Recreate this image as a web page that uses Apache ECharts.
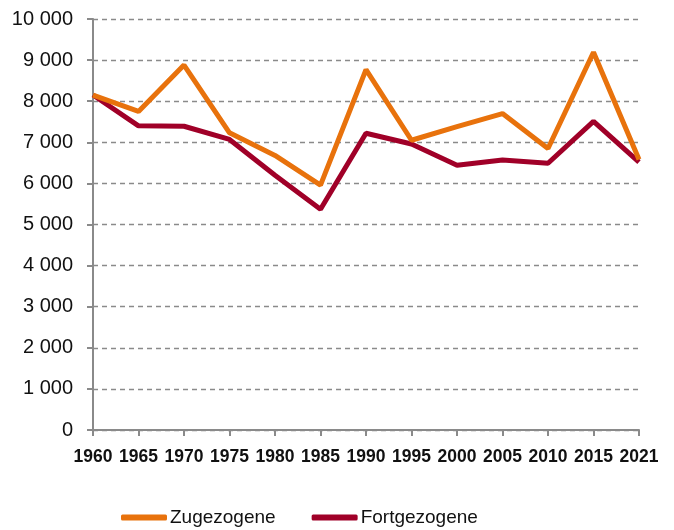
<!DOCTYPE html>
<html><head><meta charset="utf-8">
<script src="https://cdn.jsdelivr.net/npm/echarts@6/dist/echarts.min.js"></script>
<style>html,body{margin:0;padding:0;background:#fff}#c{width:674px;height:530px}</style>
</head><body><div id="c"></div>
<script>
const years = ['1960','1965','1970','1975','1980','1985','1990','1995','2000','2005','2010','2015','2021'];
const zugezogene = [8150, 7750, 8880, 7230, 6680, 5960, 8770, 7050, 7380, 7700, 6850, 9190, 6580];
const fortgezogene = [8150, 7400, 7390, 7070, 6200, 5370, 7220, 6960, 6440, 6570, 6490, 7510, 6520];
const seriesNames = ['Zugezogene', 'Fortgezogene'];
const colors = ['#E8720C', '#A00028'];

const chart = echarts.init(document.getElementById('c'));
chart.setOption({
  animation: false,
  backgroundColor: '#fff',
  grid: {left: 93, right: 35, top: 19, bottom: 100, containLabel: false},
  legend: {
    top: 503, left: 116,
    itemWidth: 46, itemHeight: 6, itemGap: 36,
    icon: 'roundRect',
    textStyle: {fontFamily: 'Liberation Sans, Arial, sans-serif', fontSize: 19, color: '#111', padding: [0,0,0,-2]},
    data: seriesNames
  },
  xAxis: {
    type: 'category', data: years, boundaryGap: false,
    axisLine: {lineStyle: {color: '#8a8a8a', width: 2}},
    axisTick: {show: true, alignWithLabel: true, interval: 0, length: 6, lineStyle: {color: '#8a8a8a', width: 2}},
    axisLabel: {interval: 0, fontFamily: 'Liberation Sans, Arial, sans-serif', fontWeight: 'bold', fontSize: 17.5, color: '#111', margin: 18},
    splitLine: {show: false}
  },
  yAxis: {
    type: 'value', min: 0, max: 10000, interval: 1000,
    axisLine: {show: true, lineStyle: {color: '#8a8a8a', width: 2}},
    axisTick: {show: true, length: 6, lineStyle: {color: '#8a8a8a', width: 2}},
    axisLabel: {fontFamily: 'Liberation Sans, Arial, sans-serif', fontSize: 20, color: '#111', margin: 20, padding: [3,0,0,0],
      formatter: v => String(v).replace(/\B(?=(\d{3})+(?!\d))/g, ' ')},
    splitLine: {show: true, lineStyle: {color: '#8a8a8a', type: [5, 4], width: 1.3}}
  },
  series: [
    {name: seriesNames[0], type: 'line', data: zugezogene, symbol: 'none', z: 3,
     lineStyle: {color: colors[0], width: 5}, itemStyle: {color: colors[0]}},
    {name: seriesNames[1], type: 'line', data: fortgezogene, symbol: 'none', z: 2,
     lineStyle: {color: colors[1], width: 5}, itemStyle: {color: colors[1]}}
  ]
});
</script></body></html>
